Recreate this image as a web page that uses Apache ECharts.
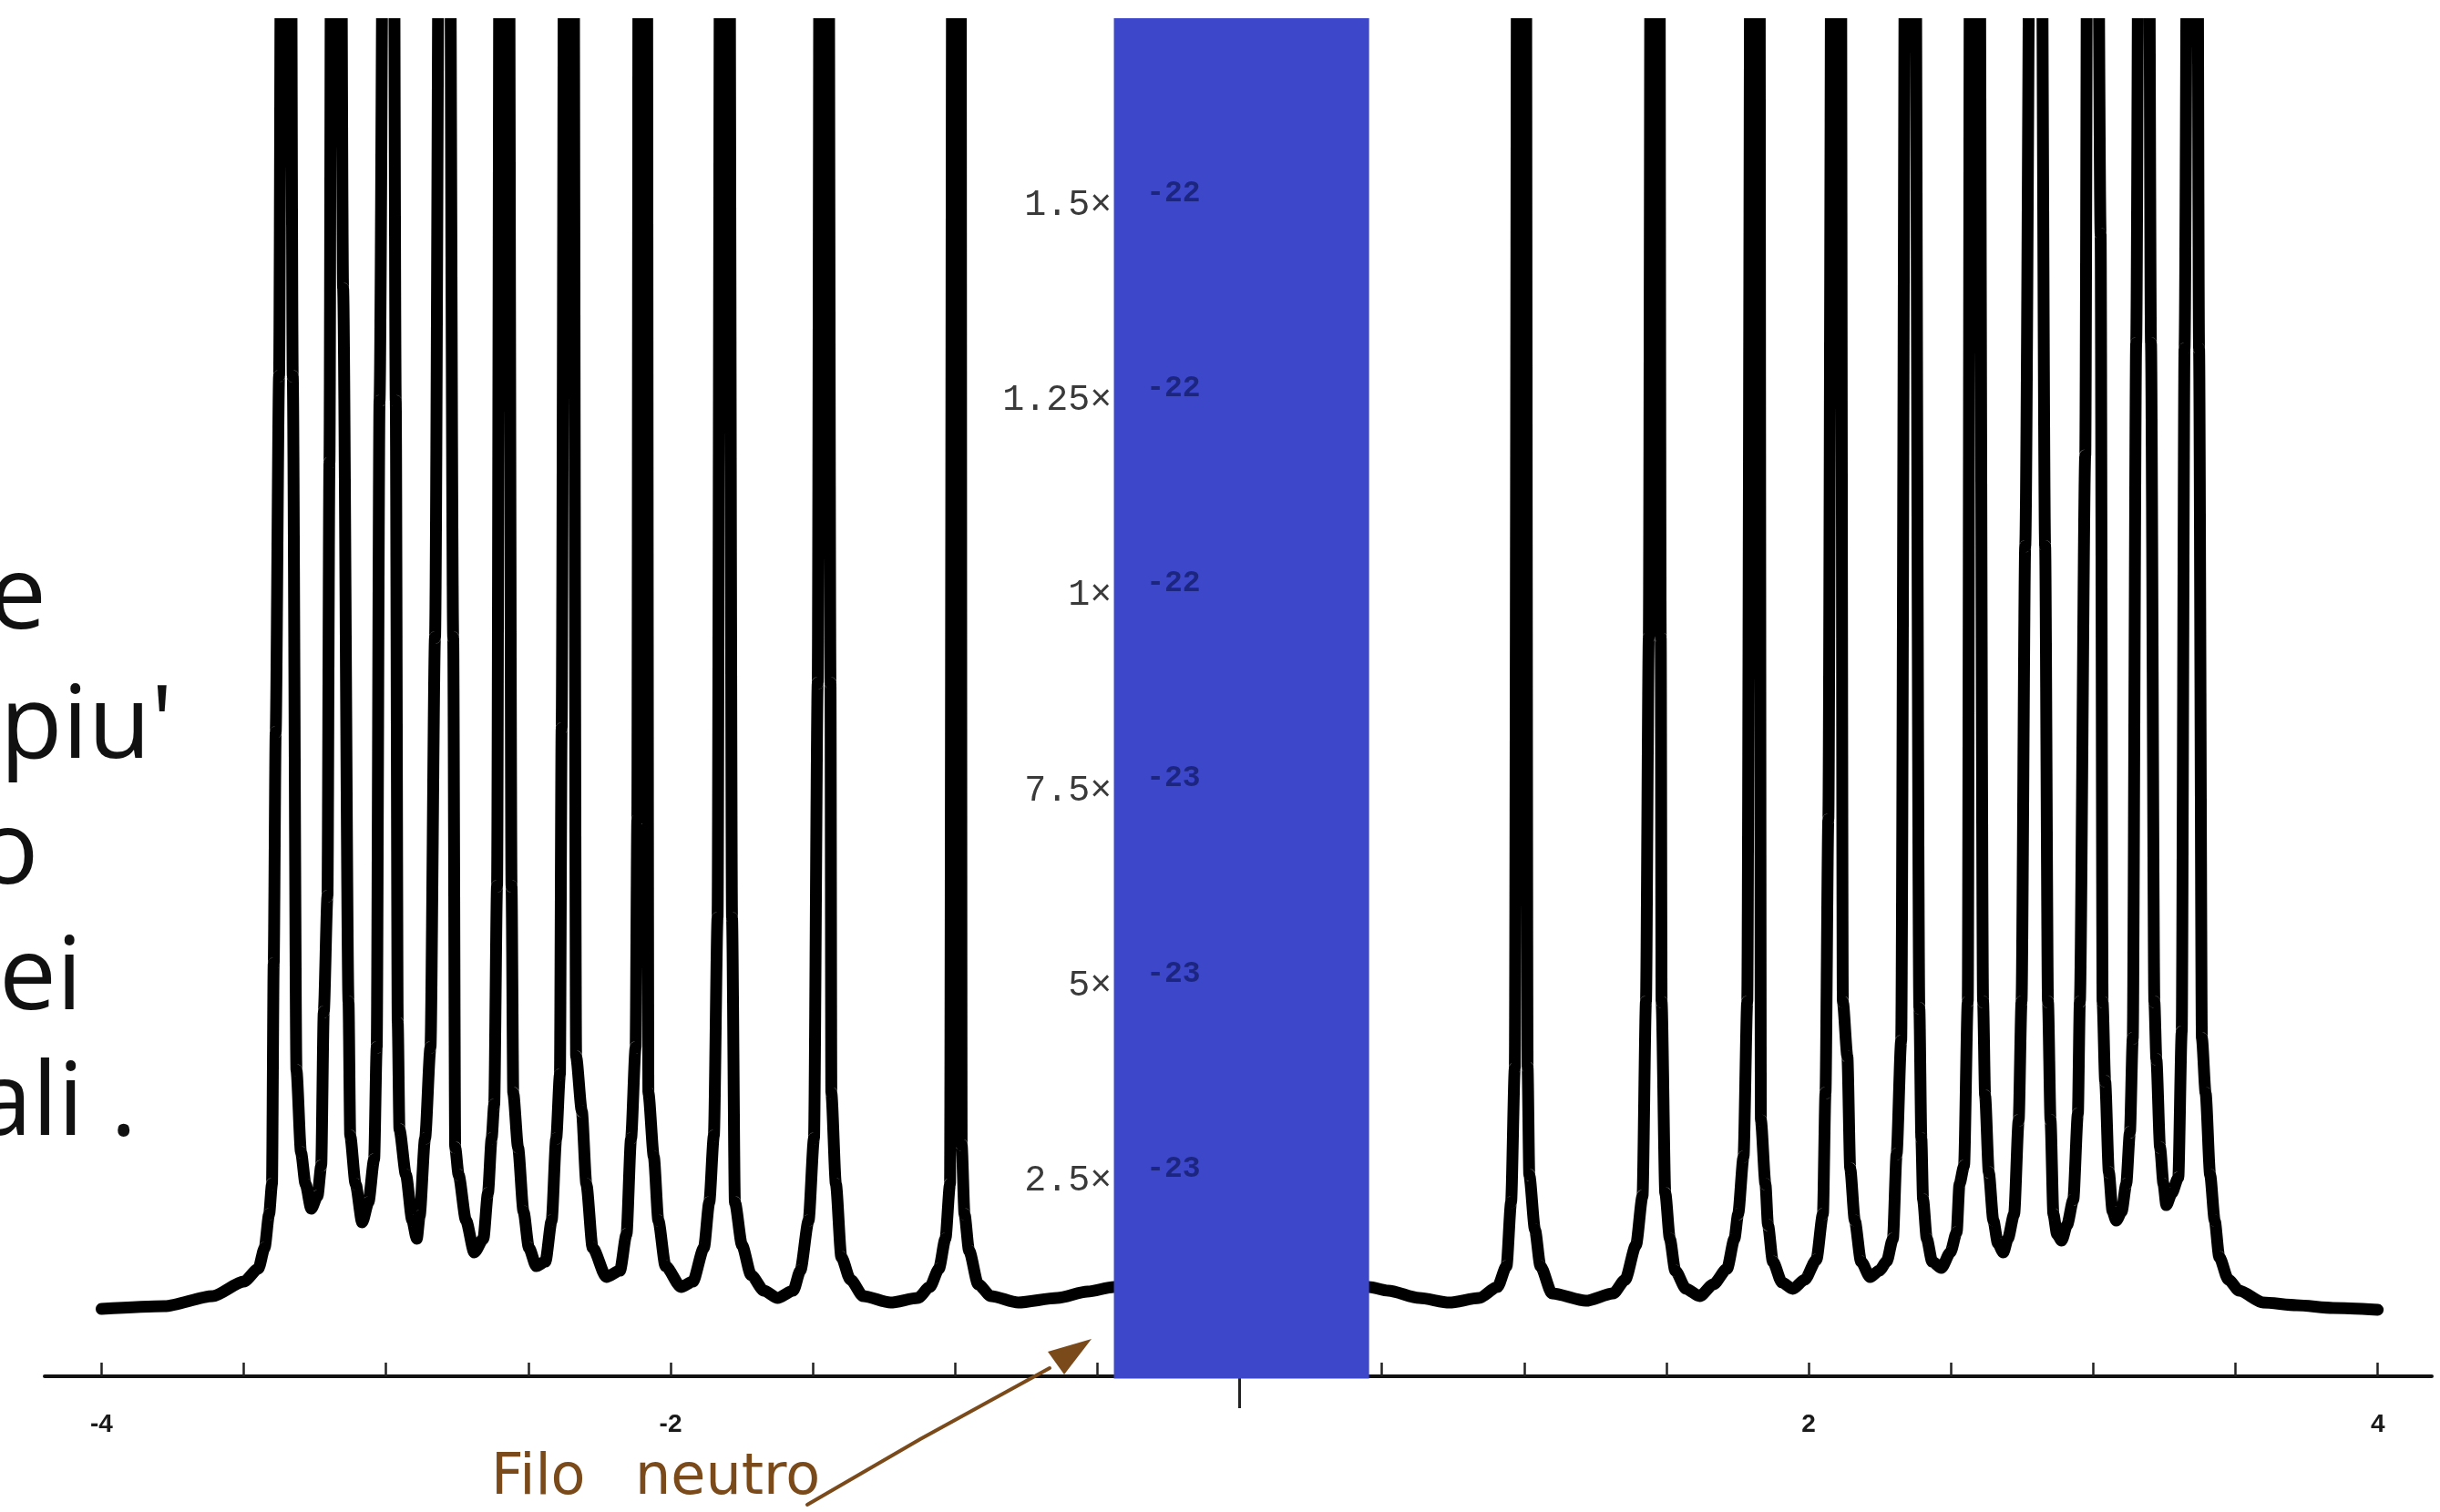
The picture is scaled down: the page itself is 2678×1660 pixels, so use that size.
<!DOCTYPE html>
<html>
<head>
<meta charset="utf-8">
<script src="https://cdn.jsdelivr.net/npm/echarts@6/dist/echarts.min.js"></script>
<style>
html,body{margin:0;padding:0;background:#fff;}
#c{width:2678px;height:1660px;}
</style>
</head>
<body>
<div id="c"></div>
<script>
// ---- DATA (x in plot units, y in units of 1e-23) ----
const curveX = [
  -4.0, -3.779, -3.609, -3.500, -3.449, -3.427, -3.411, -3.401, -3.395, -3.388, -3.376, -3.3643,
  -3.3387, -3.328, -3.315, -3.299, -3.283, -3.263,
  -3.241, -3.228, -3.219, -3.206, -3.199, -3.1897, -3.1641, -3.151, -3.132, -3.126, -3.107, -3.084,
  -3.062, -3.042, -3.033, -3.023, -3.0024, -2.9768, -2.966, -2.959, -2.953, -2.930, -2.908, -2.892,
  -2.882, -2.863, -2.844, -2.828, -2.8071, -2.7815, -2.764, -2.757, -2.745, -2.719, -2.690,
  -2.658, -2.642, -2.629, -2.620, -2.610, -2.5973, -2.5717, -2.559, -2.553, -2.536, -2.517, -2.498, -2.472,
  -2.440, -2.418, -2.402, -2.389, -2.383, -2.3699, -2.3443, -2.332, -2.312, -2.296, -2.274, -2.226,
  -2.178, -2.155, -2.139, -2.123, -2.117, -2.1105, -2.0849, -2.078, -2.059, -2.043, -2.018, -1.963,
  -1.922, -1.883, -1.864, -1.848, -1.835, -1.8223, -1.7967, -1.784, -1.774, -1.749, -1.717, -1.672, -1.624,
  -1.569, -1.544, -1.515, -1.496, -1.483, -1.4732, -1.4476, -1.438, -1.435, -1.419, -1.400, -1.368, -1.323, -1.227,
  -1.131, -1.089, -1.057, -1.034, -1.018, -1.0072, -0.9816, -0.977, -0.967, -0.951, -0.919, -0.874, -0.778, -0.641, -0.535, -0.442,
  0.455, 0.522, 0.631, 0.737, 0.842, 0.906, 0.938, 0.954, 0.967, 0.9784, 1.0040, 1.012, 1.018, 1.038, 1.057, 1.098, 1.217,
  1.313, 1.355, 1.393, 1.416, 1.428, 1.438, 1.4476, 1.4732, 1.480, 1.483, 1.496, 1.512, 1.531, 1.569, 1.617,
  1.665, 1.713, 1.739, 1.752, 1.771, 1.784, 1.7998, 1.8255, 1.832, 1.848, 1.857, 1.874, 1.906, 1.944,
  1.986, 2.027, 2.050, 2.059, 2.069, 2.0849, 2.1105, 2.120, 2.136, 2.146, 2.162, 2.184, 2.216,
  2.248, 2.274, 2.296, 2.309, 2.325, 2.3443, 2.3699, 2.389, 2.396, 2.402, 2.415, 2.434, 2.466,
  2.498, 2.520, 2.530, 2.546, 2.559, 2.5701, 2.5957, 2.613, 2.620, 2.633, 2.649, 2.665, 2.684,
  2.700, 2.722, 2.738, 2.748, 2.761, 2.7862, 2.8118, 2.831, 2.841, 2.850, 2.860, 2.873, 2.889,
  2.908, 2.930, 2.946, 2.953, 2.972, 2.9832, 3.0088, 3.026, 3.033, 3.042, 3.055, 3.068, 3.081,
  3.100, 3.116, 3.129, 3.139, 3.151, 3.1657, 3.1914, 3.203, 3.215, 3.222, 3.235, 3.247, 3.257,
  3.276, 3.299, 3.311, 3.321, 3.3370, 3.3627, 3.372, 3.382, 3.395, 3.411, 3.427, 3.443, 3.475, 3.513, 3.597, 3.715, 3.843, 4.0
];
const curveY = [
  0.863, 0.898, 1.027, 1.213, 1.377, 1.645, 2.077, 2.461, 5.285, 8.248, 12.81, 25,
  25, 12.81, 3.92, 2.87, 2.461, 2.147,
  2.31, 2.695, 4.666, 6.148, 11.70, 25, 25, 13.93, 4.795, 3.08, 2.461, 1.972,
  2.228, 2.777, 4.211, 12.49, 25, 25, 12.49, 4.526, 3.161, 2.578, 1.995, 1.762,
  2.053, 3.045, 4.211, 9.461, 25, 25, 9.461, 2.928, 2.578, 1.995, 1.587,
  1.762, 2.345, 3.045, 3.476, 6.276, 25, 25, 6.276, 3.628, 2.928, 2.112, 1.645, 1.412,
  1.47, 1.995, 3.045, 3.861, 8.295, 25, 25, 4.095, 3.395, 2.461, 1.645, 1.272,
  1.353, 1.82, 3.045, 4.211, 7.128, 25, 25, 3.628, 2.812, 1.995, 1.412, 1.143,
  1.213, 1.645, 2.228, 3.08, 5.868, 25, 25, 5.868, 2.228, 1.68, 1.295, 1.097, 1.003,
  1.097, 1.353, 1.995, 3.045, 8.878, 25, 25, 8.878, 3.628, 2.461, 1.528, 1.237, 1.027, 0.945,
  1.003, 1.143, 1.377, 1.762, 2.461, 25, 25, 2.963, 2.077, 1.61, 1.178, 1.027, 0.945, 1.003, 1.085, 1.143,
  1.143, 1.097, 1.003, 0.945, 1.003, 1.143, 1.412, 2.228, 3.943, 25, 25, 3.955, 2.578, 1.878, 1.412, 1.062, 0.968,
  1.062, 1.237, 1.68, 2.31, 4.795, 9.461, 25, 25, 9.461, 4.795, 2.345, 1.762, 1.353, 1.12, 1.027,
  1.178, 1.377, 1.762, 2.077, 2.812, 4.795, 25, 25, 3.278, 2.461, 1.937, 1.47, 1.202, 1.12,
  1.237, 1.493, 2.077, 3.628, 7.128, 25, 25, 4.795, 4.095, 2.66, 1.995, 1.47, 1.272,
  1.353, 1.47, 1.762, 2.847, 4.293, 25, 25, 4.713, 3.045, 2.263, 1.762, 1.47, 1.388,
  1.587, 1.843, 2.461, 2.695, 4.795, 25, 25, 4.795, 3.593, 2.613, 1.995, 1.703, 1.587,
  1.762, 2.077, 3.278, 4.795, 10.63, 25, 25, 10.63, 4.795, 3.278, 2.077, 1.82, 1.738,
  1.937, 2.263, 3.36, 4.795, 11.79, 25, 25, 14.63, 4.795, 3.78, 2.613, 2.112, 1.995,
  2.112, 2.461, 3.126, 4.328, 13.23, 25, 25, 13.23, 4.795, 4.06, 2.928, 2.461, 2.193,
  2.345, 2.543, 4.41, 13.16, 25, 25, 13.16, 4.328, 3.628, 2.578, 1.995, 1.528, 1.237, 1.097, 0.945, 0.91, 0.875, 0.852
];
const xRange = [-4.2, 4.19];
const yRange = [-0.408, 17.318];
const xTickValues = [-4, -3.5, -3, -2.5, -2, -1.5, -1, -0.5, 0, 0.5, 1, 1.5, 2, 2.5, 3, 3.5, 4];
const xLabelValues = [-4, -2, 2, 4];
const xLabelTexts = ['-4', '-2', '2', '4'];
const yTickValues = [2.5, 5, 7.5, 10, 12.5, 15];
const yTickMantissa = ['2.5×', '5×', '7.5×', '1×', '1.25×', '1.5×'];
const yTickExponent = ['-23', '-23', '-23', '-22', '-22', '-22'];
const highlightX = [-0.442, 0.455];
const highlightY = [-0.03, 17.394];
const sideText = ['e', "piu'", 'o', 'ei', 'ali .'];
const annotationWords = ['Filo', 'neutro'];

// ---- CHART ----
const brown = '#7B4A1B';
const curveData = curveX.map((x, i) => [x, curveY[i]]);
const chart = echarts.init(document.getElementById('c'), null, {renderer: 'canvas', width: 2678, height: 1660});

function idxOf(arr, v) {
  for (let i = 0; i < arr.length; i++) if (Math.abs(arr[i] - v) < 1e-6) return i;
  return -1;
}
const sideFont = {fontSize: 112, fontFamily: "'Open Sans', sans-serif", fill: '#111', verticalAlign: 'middle', textVerticalAlign: 'middle'};
const noteFont = {fontSize: 62, fontFamily: "'DejaVu Sans', sans-serif", fill: brown, verticalAlign: 'middle', textVerticalAlign: 'middle'};
const GRID_LEFT = 49;
const LINE_W = 13;

const option = {
  backgroundColor: '#ffffff',
  animation: false,
  grid: {left: GRID_LEFT, right: 9, top: 26.5, bottom: 114, containLabel: false, outerBoundsMode: 'none'},
  xAxis: {
    type: 'value', min: xRange[0], max: xRange[1], z: 1,
    axisLine: {show: true, onZero: true, lineStyle: {color: '#111', width: 4}},
    axisTick: {show: true, inside: true, length: 15, customValues: xTickValues,
      lineStyle: {color: '#222', width: 2.5}},
    axisLabel: {
      show: true, customValues: xLabelValues, margin: 4,
      formatter: v => { const i = idxOf(xLabelValues, v); return i >= 0 ? xLabelTexts[i] : ''; },
      fontFamily: "'Liberation Sans Narrow', 'Liberation Sans', sans-serif",
      fontWeight: 'bold', fontSize: 28, color: '#1a1a1a'
    },
    splitLine: {show: false}
  },
  yAxis: {
    type: 'value', min: yRange[0], max: yRange[1], z: 20, position: 'left', offset: 0,
    axisLine: {show: false, onZero: false},
    axisTick: {show: false},
    splitLine: {show: false},
    axisLabel: {
      show: true, customValues: yTickValues, margin: 43,
      formatter: v => {
        const i = idxOf(yTickValues, v);
        if (i < 0) return '';
        return '{m|' + yTickMantissa[i] + '}{h|10}{e|' + yTickExponent[i] + '}';
      },
      rich: {
        m: {fontFamily: "'Liberation Mono', monospace", fontSize: 40, color: '#3a3a3a', lineHeight: 60},
        h: {fontFamily: "'Liberation Mono', monospace", fontSize: 40, color: 'rgba(0,0,0,0)', lineHeight: 60, width: 38},
        e: {fontFamily: "'Liberation Mono', monospace", fontSize: 33, fontWeight: 'bold', color: '#1c2680', lineHeight: 34, padding: [0, 0, 26, 0]}
      }
    }
  },
  series: [
    {
      type: 'line', data: curveData, showSymbol: false, symbol: 'none', z: 2,
      clip: true, silent: true, smooth: 0.25, smoothMonotone: 'x',
      lineStyle: {color: '#000', width: LINE_W, cap: 'round', join: 'round'},
      markLine: {
        silent: true, symbol: ['none', 'none'], label: {show: false}, z: 3,
        lineStyle: {color: '#222', width: 3, type: 'solid'},
        data: [[{coord: [0, yRange[0]]}, {coord: [0, 0]}]]
      }
    },
    {
      type: 'custom', z: 10, silent: true, clip: false,
      data: [[highlightX[0], highlightX[1], highlightY[0], highlightY[1]]],
      encode: {x: [0, 1], y: [2, 3]},
      renderItem: (params, api) => {
        const p0 = api.coord([api.value(0), api.value(3)]);
        const p1 = api.coord([api.value(1), api.value(2)]);
        return {type: 'rect', shape: {x: p0[0], y: p0[1], width: p1[0] - p0[0], height: p1[1] - p0[1]},
          style: {fill: '#3D47C9'}};
      }
    }
  ],
  graphic: {
    elements: [
      {type: 'text', x: -12, y: 658, z: 100, style: Object.assign({text: sideText[0]}, sideFont)},
      {type: 'text', x: 0, y: 800, z: 100, style: Object.assign({text: sideText[1]}, sideFont)},
      {type: 'text', x: -25, y: 938, z: 100, style: Object.assign({text: sideText[2]}, sideFont)},
      {type: 'text', x: -1, y: 1076, z: 100, style: Object.assign({text: sideText[3]}, sideFont)},
      {type: 'text', x: -27, y: 1214, z: 100, style: Object.assign({text: sideText[4]}, sideFont)},
      {type: 'text', x: 539, y: 1624, z: 100, style: Object.assign({text: annotationWords[0]}, noteFont)},
      {type: 'text', x: 697, y: 1624, z: 100, style: Object.assign({text: annotationWords[1]}, noteFont)},
      {type: 'polyline', z: 100, shape: {points: [[886, 1652], [1010, 1580], [1152, 1502]]}, style: {stroke: brown, lineWidth: 4, fill: null, lineCap: 'round'}},
      {type: 'polygon', z: 100, shape: {points: [[1198, 1470], [1150, 1484], [1168, 1509]]}, style: {fill: brown}}
    ]
  }
};
chart.setOption(option);
// place the y axis (labels) on x = 0, as in the original plot
const zeroPx = chart.convertToPixel({xAxisIndex: 0}, 0);
chart.setOption({yAxis: {offset: -(zeroPx - GRID_LEFT)}});
</script>
</body>
</html>
